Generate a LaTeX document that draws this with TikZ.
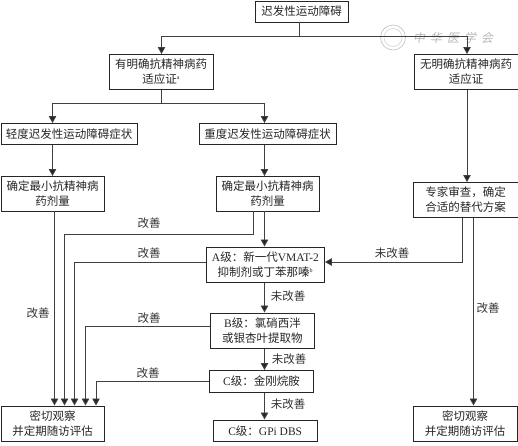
\documentclass[tikz,border=0pt]{standalone}
\usepackage{fontspec}
\setmainfont{Liberation Serif}
\newfontfamily\cjk{Noto Sans CJK SC}[Scale=1.0]
\newcommand{\lat}[1]{{\rmfamily\fontspec{Liberation Serif}#1}}
\usetikzlibrary{arrows.meta}
\tikzset{
  x=1pt,y=-1pt,
  boxn/.style={draw=black!85,line width=0.9pt,inner sep=0pt,align=center,font=\fontsize{11.5}{15}\selectfont\cjk,text=black!85,anchor=north west},
  conn/.style={draw=black!75,line width=0.9pt},
  arr/.style={conn,-{Triangle[length=7pt,width=7.5pt,fill=black!85]}},
  lab/.style={font=\fontsize{11.5}{14}\selectfont\cjk,text=black!80,inner sep=0pt}
}
\newcommand{\bx}[6]{\node[boxn,minimum width=#4pt-#3pt,minimum height=#6pt-#5pt] (#1) at (#3,#5) {#2};}
\begin{document}
\begin{tikzpicture}
\useasboundingbox (0,0) rectangle (518,445);
% watermark
\node[circle,draw=black!25,line width=0.6pt,minimum size=25pt,inner sep=0pt] (seal) at (393,37.5) {};
\node[circle,draw=black!20,line width=0.5pt,minimum size=18pt,inner sep=0pt] (sealb) at (393,37.5) {};
\node[font=\fontsize{12}{14}\selectfont\cjk,text=black!28,inner sep=0pt,xslant=0.2] (wm) at (454,38) {中\hspace{5pt}华\hspace{5pt}医\hspace{5pt}学\hspace{5pt}会};
% boxes
\bx{top}{迟发性运动障碍}{254.5}{348}{0.6}{21.5}
\bx{yes}{有明确抗精神病药\\适应证\textsuperscript{\lat{\fontsize{6}{6}\selectfont a}}}{109}{212.5}{54}{89}
\bx{no}{无明确抗精神病药\\适应证}{414}{517.5}{54}{89}
\bx{mild}{轻度迟发性运动障碍症状}{0.5}{137}{123}{144}
\bx{severe}{重度迟发性运动障碍症状}{198.5}{336}{123}{144}
\bx{dosel}{确定最小抗精神病\\药剂量}{0.5}{104}{176}{210.5}
\bx{dosem}{确定最小抗精神病\\药剂量}{215.5}{319}{176}{210.5}
\bx{expert}{专家审查，确定\\合适的替代方案}{413}{517.5}{182}{217}
\bx{gradeA}{\lat{A}级：新一代\lat{VMAT-2}\\抑制剂或丁苯那嗪\textsuperscript{\lat{\fontsize{6}{6}\selectfont b}}}{206}{324}{246.5}{282}
\bx{gradeB}{\lat{B}级：氯硝西泮\\或银杏叶提取物}{210}{314}{312.5}{348}
\bx{gradeC}{\lat{C}级：金刚烷胺}{209}{313}{370}{392}
\bx{dbs}{\lat{C}级：\lat{GPi DBS}}{213}{316.5}{419.5}{441}
\bx{obsl}{密切观察\\并定期随访评估}{0.5}{104}{405.5}{441}
\bx{obsr}{密切观察\\并定期随访评估}{413}{516.5}{405.5}{441}
% coordinates
\coordinate (j1) at (299.5,36.5);
\coordinate (j2) at (161.5,103.5);
% connectors
\draw[conn] (top.south -| j1) -- (j1);
\draw[arr] (j1) -| (yes.north -| 161.5,0);
\draw[arr] (j1) -| (no.north -| 467,0);
\draw[conn] (yes.south -| j2) -- (j2);
\draw[arr] (j2) -| (mild.north -| 52.5,0);
\draw[arr] (j2) -| (severe.north -| 264.5,0);
\draw[arr] (mild.south -| 52.5,0) -- (dosel.north -| 52.5,0);
\draw[arr] (severe.south -| 264.5,0) -- (dosem.north -| 264.5,0);
\draw[arr] (no.south -| 467,0) -- (expert.north -| 467,0);
\draw[arr] (dosel.south -| 54.5,0) -- (obsl.north -| 54.5,0);
\draw[arr] (dosem.south -| 253.5,0) -- (253.5,234) -| (obsl.north -| 64.5,0);
\draw[arr] (dosem.south -| 264.5,0) -- (gradeA.north -| 264.5,0);
\draw[arr] (gradeA.west |- 0,262) -| (obsl.north -| 74.5,0);
\draw[arr] (gradeB.west |- 0,326.5) -| (obsl.north -| 85.5,0);
\draw[arr] (gradeC.west |- 0,381) -| (obsl.north -| 96,0);
\draw[arr] (gradeA.south -| 264.5,0) -- (gradeB.north -| 264.5,0);
\draw[arr] (gradeB.south -| 264.5,0) -- (gradeC.north -| 264.5,0);
\draw[arr] (gradeC.south -| 264.5,0) -- (dbs.north -| 264.5,0);
\draw[arr] (expert.south -| 462,0) -- (462,262) -- (gradeA.east |- 0,262);
\draw[arr] (expert.south -| 473.5,0) -- (obsr.north -| 473.5,0);
% labels
\node[lab] (l1) at (149,223) {改善};
\node[lab] (l2) at (149,253) {改善};
\node[lab] (l3) at (149,318) {改善};
\node[lab] (l4) at (148,373) {改善};
\node[lab] (l5) at (38,313) {改善};
\node[lab] (l6) at (488,308) {改善};
\node[lab] (l7) at (392,253) {未改善};
\node[lab] (l8) at (288,296) {未改善};
\node[lab] (l9) at (289,359) {未改善};
\node[lab] (l10) at (288,404) {未改善};
\end{tikzpicture}
\end{document}
